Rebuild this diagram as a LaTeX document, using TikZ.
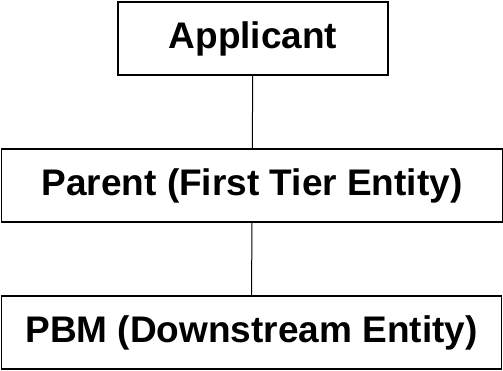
\documentclass[tikz,border=0pt]{standalone}
\usepackage{fontspec}
\setmainfont{Liberation Sans}
\begin{document}
\begin{tikzpicture}[x=1pt, y=-1pt, line width=1.2pt, main/.style = {draw, rectangle, minimum height=73pt, inner sep=0pt, font=\fontsize{37}{42}\selectfont\bfseries}]
        \useasboundingbox (0,0) rectangle (503,371);
        \node[main, minimum width=270pt] (1) at (253,38.5)  {Applicant};
        \node[main, minimum width=501pt] (2) at (252,185.5) {Parent (First Tier Entity)};
        \node[main, minimum width=500pt] (3) at (251.5,332.5) {PBM (Downstream Entity)};

        \draw[line width=1pt] (1) -- (2);
        \draw[line width=1pt] (2) -- (3);

    \end{tikzpicture}
\end{document}
